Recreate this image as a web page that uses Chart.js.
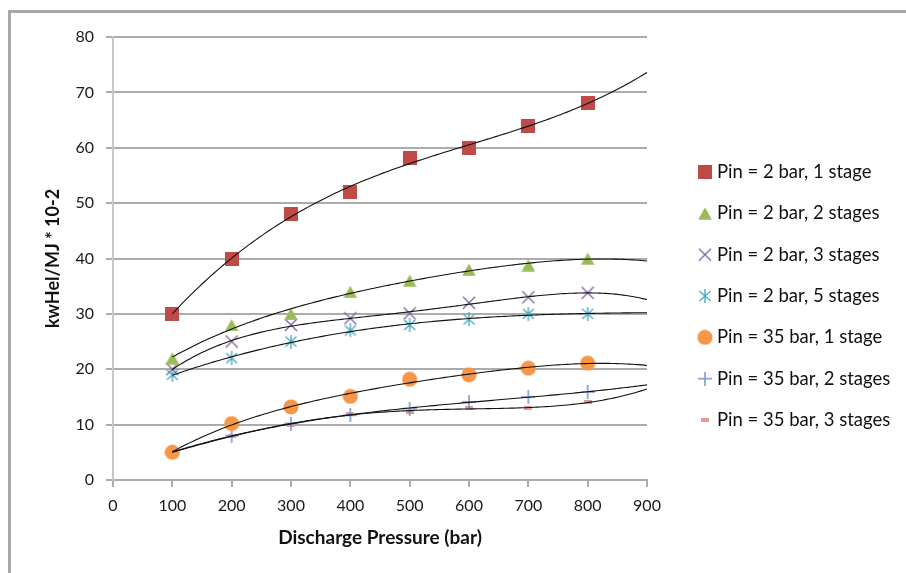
<!DOCTYPE html>
<html>
<head>
<meta charset="utf-8">
<script src="https://cdn.jsdelivr.net/npm/chart.js@4/dist/chart.umd.min.js"></script>
<style>
  html, body { margin: 0; padding: 0; background: #ffffff; }
  #wrap { width: 906px; height: 573px; }
</style>
</head>
<body>
<div id="wrap"><canvas id="c" width="906" height="573"></canvas></div>
<script>
// ---------------- data ----------------
const pressure = [100, 200, 300, 400, 500, 600, 700, 800];
const seriesNames = [
  'Pin = 2 bar, 1 stage',
  'Pin = 2 bar, 2 stages',
  'Pin = 2 bar, 3 stages',
  'Pin = 2 bar, 5 stages',
  'Pin = 35 bar, 1 stage',
  'Pin = 35 bar, 2 stages',
  'Pin = 35 bar, 3 stages'
];
const pin2Stage1  = [30, 40, 48, 52, 58.2, 60, 64, 68];
const pin2Stage2  = [22, 28, 30, 34, 36, 38, 38.8, 40];
const pin2Stage3  = [20, 25, 28, 29.2, 30.1, 32, 33, 33.8];
const pin2Stage5  = [19, 22, 25, 27, 28, 29, 30, 30];
const pin35Stage1 = [5, 10.2, 13.2, 15.1, 18.2, 19, 20.2, 21.1];
const pin35Stage2 = [5, 8, 10.2, 11.7, 12.9, 14.1, 15, 15.9];
const pin35Stage3 = [5, 8, 10, 12, 12.3, 13, 13, 14];
const xTicks = [0, 100, 200, 300, 400, 500, 600, 700, 800, 900];
const yTicks = [0, 10, 20, 30, 40, 50, 60, 70, 80];
const xTitle = 'Discharge Pressure (bar)';
const yTitle = 'kwHel/MJ * 10-2';
const trendEnd = 900;                       // trendlines forecast forward to 900 bar
const trendOrders = [4, 4, 4, 4, 4, 3, 4];  // polynomial trendline order per series

const allSeries = [pin2Stage1, pin2Stage2, pin2Stage3, pin2Stage5, pin35Stage1, pin35Stage2, pin35Stage3];

// ---------------- styling ----------------
const FONT = 'Lato';
const LEG_FONT = 18.5;
const LEG_STEP = 41.33;
const LEG_PAD = LEG_STEP - LEG_FONT;
const LEG_BOX = 5.5;
const LEG_X = 702.25;
const LEG_FIRST_Y = 172;
const PLOT = { left: 113, top: 37, right: 647, bottom: 480 };
const GRID = '#acacac';

function marker(w, h, draw) {
  const c = document.createElement('canvas');
  c.width = w; c.height = h;
  const g = c.getContext('2d');
  draw(g, w, h);
  return c;
}
const mk = [
  marker(14, 14, (g) => { g.fillStyle = '#be4b48'; g.fillRect(0, 0, 14, 14); }),
  marker(14, 13, (g) => { g.fillStyle = '#9bbb59'; g.beginPath(); g.moveTo(7, 0.5); g.lineTo(13.8, 12.8); g.lineTo(0.2, 12.8); g.closePath(); g.fill(); }),
  marker(14, 14, (g) => { g.strokeStyle = '#8064a2'; g.lineWidth = 1.4; g.beginPath(); g.moveTo(1, 1); g.lineTo(13, 13); g.moveTo(13, 1); g.lineTo(1, 13); g.stroke(); }),
  marker(14, 14, (g) => { g.strokeStyle = '#4bacc6'; g.lineWidth = 1.4; g.beginPath(); g.moveTo(1.5, 2); g.lineTo(12.5, 12); g.moveTo(12.5, 2); g.lineTo(1.5, 12); g.moveTo(7, 0); g.lineTo(7, 14); g.stroke(); }),
  marker(16, 16, (g) => { g.fillStyle = '#f79646'; g.beginPath(); g.arc(8, 8, 7.6, 0, Math.PI * 2); g.fill(); }),
  marker(14, 14, (g) => { g.strokeStyle = '#7393cc'; g.lineWidth = 1.5; g.beginPath(); g.moveTo(7, 0); g.lineTo(7, 14); g.moveTo(0, 7); g.lineTo(14, 7); g.stroke(); }),
  marker(8, 4, (g) => { g.fillStyle = '#e29a9a'; g.fillRect(0, 0, 8, 4); })
];

// least-squares polynomial trendline (like the spreadsheet's trendline)
function polyfit(xs, ys, deg) {
  const n = deg + 1;
  const A = Array.from({ length: n }, () => new Array(n + 1).fill(0));
  for (let k = 0; k < xs.length; k++) {
    const t = xs[k] / 100;
    for (let i = 0; i < n; i++) {
      for (let j = 0; j < n; j++) A[i][j] += Math.pow(t, i + j);
      A[i][n] += ys[k] * Math.pow(t, i);
    }
  }
  for (let c = 0; c < n; c++) {
    let p = c;
    for (let r = c + 1; r < n; r++) if (Math.abs(A[r][c]) > Math.abs(A[p][c])) p = r;
    [A[c], A[p]] = [A[p], A[c]];
    for (let r = 0; r < n; r++) {
      if (r === c) continue;
      const f = A[r][c] / A[c][c];
      for (let k = c; k <= n; k++) A[r][k] -= f * A[c][k];
    }
  }
  return A.map((row, i) => row[n] / row[i]);
}
function trendPoints(ys, order) {
  const co = polyfit(pressure, ys, order);
  const pts = [];
  for (let x = pressure[0]; x <= trendEnd; x += 5) {
    const t = x / 100;
    let y = 0;
    for (let i = co.length - 1; i >= 0; i--) y = y * t + co[i];
    pts.push({ x, y });
  }
  return pts;
}

const datasets = [];
allSeries.forEach((ys, i) => {
  datasets.push({
    label: seriesNames[i],
    data: pressure.map((x, k) => ({ x, y: ys[k] })),
    pointStyle: mk[i],
    pointRadius: 7,
    pointHoverRadius: 7,
    showLine: false,
    backgroundColor: '#000',
    borderColor: '#000',
    order: 2
  });
});
allSeries.forEach((ys, i) => {
  datasets.push({
    label: 'trend',
    isTrend: true,
    data: trendPoints(ys, trendOrders[i]),
    showLine: true,
    pointRadius: 0,
    borderColor: '#111111',
    borderWidth: 1.1,
    fill: false,
    tension: 0,
    order: 1
  });
});

// legend geometry
const mctx = document.createElement('canvas').getContext('2d');
mctx.font = LEG_FONT + 'px ' + FONT;
const maxTextW = Math.max(...seriesNames.map(s => mctx.measureText(s).width));
const colW = LEG_BOX + LEG_FONT / 2 + maxTextW;
const legendW = LEG_PAD + colW + 10;
const legendLeft = LEG_X - LEG_PAD;
const gapW = legendLeft - PLOT.right;
const padR = 906 - (legendLeft + legendW);
const padT = PLOT.top;
const colH = seriesNames.length * LEG_STEP;
// first item centre = ((padT + pad) + (573 - padB - colH)) / 2 + font/2
const padB = padT + LEG_PAD + 573 - colH - 2 * (LEG_FIRST_Y - LEG_FONT / 2);

const framePlugin = {
  id: 'frame',
  beforeDraw(chart) {
    const g = chart.ctx;
    g.save();
    g.fillStyle = '#ffffff';
    g.fillRect(0, 0, chart.width, chart.height);
    g.fillStyle = '#a8a8a8';
    g.fillRect(8, 10, 898, 3);
    g.fillRect(8, 10, 3, 563);
    g.restore();
  }
};

Chart.defaults.font.family = FONT;
Chart.defaults.color = '#1a1a1a';

new Chart(document.getElementById('c'), {
  type: 'scatter',
  data: { datasets },
  options: {
    responsive: false,
    animation: false,
    devicePixelRatio: 1,
    layout: { padding: { left: 0, top: padT, right: padR, bottom: padB } },
    plugins: {
      tooltip: { enabled: false },
      legend: {
        display: true,
        position: 'right',
        align: 'center',
        maxWidth: legendW,
        labels: {
          usePointStyle: true,
          boxWidth: LEG_BOX,
          boxHeight: 13,
          padding: LEG_PAD,
          color: '#111111',
          font: { size: LEG_FONT, family: FONT },
          filter: (item, data) => !data.datasets[item.datasetIndex].isTrend
        }
      }
    },
    scales: {
      x: {
        type: 'linear',
        position: 'bottom',
        min: 0,
        max: 900,
        afterBuildTicks: (s) => { s.ticks = xTicks.map(v => ({ value: v })); },
        ticks: { font: { size: 16 }, padding: 9, color: '#1a1a1a', maxRotation: 0 },
        grid: { drawOnChartArea: false, drawTicks: true, tickLength: 7, color: GRID, lineWidth: 2 },
        border: { display: true, color: GRID, width: 2 },
        title: { display: true, text: xTitle, color: '#111111', font: { size: 19, weight: 'bold' }, padding: { top: 0, bottom: 573 - padB - 538 - 11.4 } },
        afterFit: (s) => { s.height = 573 - padB - PLOT.bottom; }
      },
      y: {
        type: 'linear',
        position: 'left',
        min: 0,
        max: 80,
        afterBuildTicks: (s) => { s.ticks = yTicks.map(v => ({ value: v })); },
        ticks: { font: { size: 16 }, padding: 12, color: '#1a1a1a' },
        grid: { drawOnChartArea: true, drawTicks: true, tickLength: 7, color: GRID, lineWidth: 2 },
        border: { display: true, color: '#c6c6c6', width: 2 },
        title: { display: true, text: yTitle, color: '#111111', font: { size: 18, weight: 'bold' }, padding: { top: 42.2, bottom: 0 } },
        afterFit: (s) => { s.width = PLOT.left; }
      },
      gap: {
        type: 'linear',
        position: 'right',
        display: true,
        grid: { display: false },
        border: { display: false },
        ticks: { display: false },
        afterFit: (s) => { s.width = gapW; }
      }
    }
  },
  plugins: [framePlugin]
});
</script>
</body>
</html>
